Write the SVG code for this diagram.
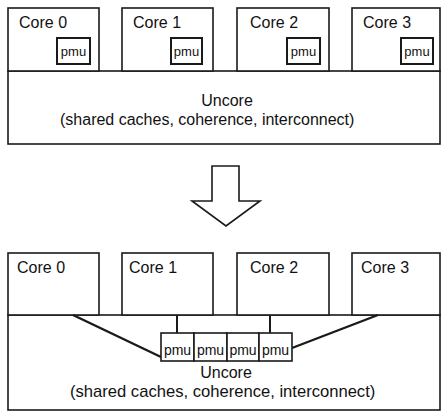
<svg xmlns="http://www.w3.org/2000/svg" width="441" height="412" viewBox="0 0 441 412">
  <style>
    .box { fill: #ffffff; stroke: #1a1a1a; stroke-width: 1.6; }
    .pmu { fill: #ffffff; stroke: #1a1a1a; stroke-width: 2; }
    .wire { fill: none; stroke: #1a1a1a; stroke-width: 2.4; }
    .lbl { font-family: "Liberation Sans", Arial, sans-serif; fill: #111111; }
    .core { font-size: 16px; }
    .unc { font-size: 16px; text-anchor: middle; }
    .small { font-size: 13px; text-anchor: middle; }
    .bank { font-size: 14px; text-anchor: middle; }
  </style>
  <rect width="441" height="412" fill="#ffffff"/>

  <!-- Per-core PMUs -->
  <g id="top">
    <g id="top-uncore">
      <rect class="box" x="8" y="71" width="432" height="73"/>
      <text class="lbl unc" x="227" y="106">Uncore</text>
      <text class="lbl" x="60" y="125" style="font-size:16px">(shared caches, coherence, interconnect)</text>
    </g>
    <g id="top-core0">
      <rect class="box" x="8" y="8" width="91" height="63"/>
      <text class="lbl core" x="19" y="28">Core 0</text>
      <rect class="pmu" x="57" y="38" width="33" height="26"/>
      <text class="lbl small" x="73.5" y="56">pmu</text>
    </g>
    <g id="top-core1">
      <rect class="box" x="122" y="8" width="91" height="63"/>
      <text class="lbl core" x="133" y="28">Core 1</text>
      <rect class="pmu" x="171" y="38" width="31" height="26"/>
      <text class="lbl small" x="186.5" y="56">pmu</text>
    </g>
    <g id="top-core2">
      <rect class="box" x="237" y="8" width="92" height="63"/>
      <text class="lbl core" x="250" y="28">Core 2</text>
      <rect class="pmu" x="287" y="38" width="33" height="26"/>
      <text class="lbl small" x="303.5" y="56">pmu</text>
    </g>
    <g id="top-core3">
      <rect class="box" x="352" y="8" width="88" height="63"/>
      <text class="lbl core" x="363" y="28">Core 3</text>
      <rect class="pmu" x="401" y="38" width="32" height="26"/>
      <text class="lbl small" x="417" y="56">pmu</text>
    </g>
  </g>

  <!-- Transition arrow -->
  <g id="arrow">
    <polygon class="box" points="212,166 239,166 239,201 260,201 226,226 192,201 212,201"/>
  </g>

  <!-- Shared PMUs in the uncore -->
  <g id="bottom">
    <g id="bot-uncore">
      <rect class="box" x="8" y="315" width="432" height="95"/>
      <text class="lbl unc" x="226" y="378">Uncore</text>
      <text class="lbl" x="70" y="397" style="font-size:16.6px">(shared caches, coherence, interconnect)</text>
    </g>
    <g id="bot-core0">
      <rect class="box" x="8" y="253" width="91" height="62"/>
      <text class="lbl core" x="17" y="273">Core 0</text>
    </g>
    <g id="bot-core1">
      <rect class="box" x="122" y="253" width="91" height="62"/>
      <text class="lbl core" x="129" y="273">Core 1</text>
    </g>
    <g id="bot-core2">
      <rect class="box" x="237" y="253" width="92" height="62"/>
      <text class="lbl core" x="250" y="273">Core 2</text>
    </g>
    <g id="bot-core3">
      <rect class="box" x="352" y="253" width="88" height="62"/>
      <text class="lbl core" x="361" y="273">Core 3</text>
    </g>

    <g id="connectors">
      <line class="wire" x1="73" y1="315" x2="161" y2="357"/>
      <line class="wire" x1="378" y1="315" x2="292" y2="348"/>
      <line class="wire" x1="177" y1="315" x2="177" y2="333" style="stroke-width:2"/>
      <line class="wire" x1="270" y1="315" x2="270" y2="333" style="stroke-width:2"/>
    </g>

    <g id="pmu-bank">
      <rect class="box" x="161" y="333" width="33" height="28"/>
      <rect class="box" x="194" y="333" width="33" height="28"/>
      <rect class="box" x="227" y="333" width="32" height="28"/>
      <rect class="box" x="259" y="333" width="33" height="28"/>
      <text class="lbl bank" x="177.5" y="355">pmu</text>
      <text class="lbl bank" x="210.5" y="355">pmu</text>
      <text class="lbl bank" x="243" y="355">pmu</text>
      <text class="lbl bank" x="275.5" y="355">pmu</text>
    </g>
  </g>
</svg>
